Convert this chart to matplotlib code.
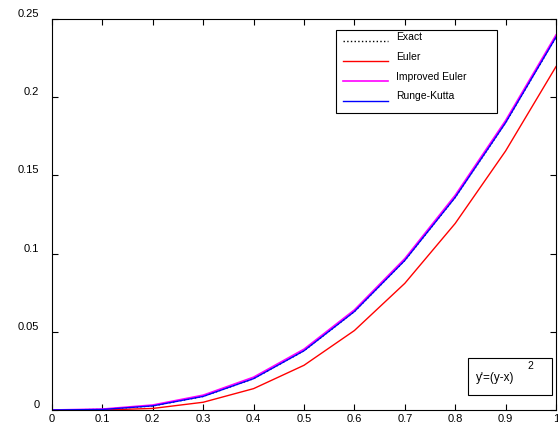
import numpy as np
import matplotlib
matplotlib.use("Agg")
import matplotlib.pyplot as plt
import matplotlib.transforms as mtransforms
from matplotlib.patches import Rectangle

# y' = (y-x)^2, y(0) = 0, step 0.1
x = [0.0, 0.1, 0.2, 0.3, 0.4, 0.5, 0.6, 0.7, 0.8, 0.9, 1.0]
exact = [0.0, 0.00033, 0.00263, 0.00869, 0.02005, 0.03788, 0.06295, 0.09563, 0.13596, 0.18370, 0.23841]
euler = [0.0, 0.0, 0.00100, 0.00496, 0.01367, 0.02859, 0.05081, 0.08098, 0.11929, 0.16563, 0.21956]
improved = [0.0, 0.00060, 0.00320, 0.00950, 0.02100, 0.03890, 0.06400, 0.09680, 0.13730, 0.18510, 0.23980]
rk = [0.0, 0.00033, 0.00263, 0.00869, 0.02005, 0.03788, 0.06295, 0.09563, 0.13596, 0.18370, 0.23841]

xticks = [0, 0.1, 0.2, 0.3, 0.4, 0.5, 0.6, 0.7, 0.8, 0.9, 1]
xticklabels = ["0", "0.1", "0.2", "0.3", "0.4", "0.5", "0.6", "0.7", "0.8", "0.9", "1"]
yticks = [0, 0.05, 0.1, 0.15, 0.2, 0.25]
yticklabels = ["0", "0.05", "0.1", "0.15", "0.2", "0.25"]

plt.rcParams['font.family'] = ['Liberation Sans', 'DejaVu Sans']

fig = plt.figure(figsize=(5.58, 4.26), dpi=100)
ax = fig.add_axes([52/558, 1 - 410/426, 504/558, 391/426])

ax.plot(x, exact, color='black', linestyle=':', linewidth=1, label='Exact')
ax.plot(x, euler, color='#ff0000', linewidth=1, label='Euler')
ax.plot(x, improved, color='#ff00ff', linewidth=1.2, label='Improved Euler')
ax.plot(x, rk, color='#0000ff', linewidth=1, label='Runge-Kutta')

ax.set_xlim(0, 1)
ax.set_ylim(0, 0.25)
ax.set_xticks(xticks)
ax.set_xticklabels(xticklabels)
ax.set_yticks(yticks)
ax.set_yticklabels(yticklabels)
ax.tick_params(direction='in', length=4, width=0.8, labelsize=8,
               top=True, right=True, pad=3)
ax.tick_params(axis='y', pad=9)
for lab in ax.get_yticklabels():
    lab.set_transform(lab.get_transform() + mtransforms.ScaledTranslation(0, 6/100, fig.dpi_scale_trans))
for sp in ax.spines.values():
    sp.set_linewidth(0.8)

leg = ax.legend(loc='upper left', bbox_to_anchor=(0.5635, 0.760, 0.3195, 0.212),
                mode='expand', fancybox=False, edgecolor='black', framealpha=1,
                fontsize=7.5, handlelength=4.3, labelspacing=0.95, borderpad=0.65,
                handletextpad=0.8, borderaxespad=0)
leg.get_frame().set_linewidth(0.8)
for t in leg.get_texts():
    t.set_transform(t.get_transform() + mtransforms.ScaledTranslation(0, 5/100, fig.dpi_scale_trans))

ax.add_patch(Rectangle((0.825, 0.038), 0.167, 0.095, transform=ax.transAxes,
                       fill=False, edgecolor='black', linewidth=0.8))
ax.text(0.842, 0.083, "y'=(y-x)", transform=ax.transAxes, fontsize=8.5, va='center')
ax.text(0.944, 0.113, "2", transform=ax.transAxes, fontsize=7.5, va='center')

fig.savefig('out.png', dpi=100)
